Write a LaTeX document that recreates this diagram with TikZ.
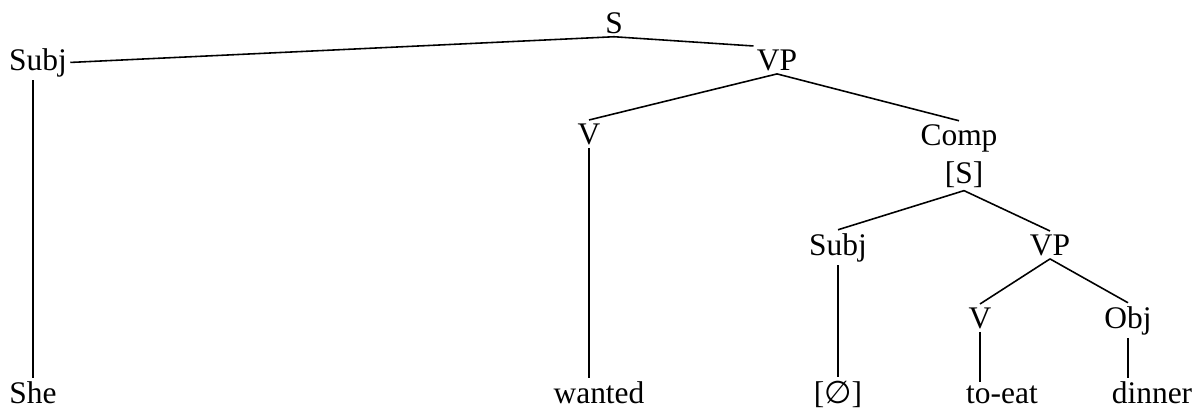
\documentclass[tikz,border=0pt]{standalone}
\usepackage{fontspec}
\setmainfont{Liberation Serif}
\newfontfamily\symfont{DejaVu Sans}
\usepackage{tikz}

\begin{document}
\begin{tikzpicture}[x=0.02cm,y=-0.02cm,line width=0.9pt,
  cat/.style={font=\fontsize{17.9}{21.5}\selectfont,inner sep=1.5pt,anchor=base}]
\useasboundingbox (0,0) rectangle (1200,410);
\node[cat] (s) at (614,33) {S};
\node[cat] (subj) at (38,70) {Subj};
\node[cat] (vp) at (777,70) {VP};
\node[cat] (v) at (589,144) {V};
\node[cat] (comp) at (959,145) {Comp};
\node[cat] (cs) at (964,183) {[S]};
\node[cat] (subjb) at (838,255) {Subj};
\node[cat] (vpb) at (1050,255) {VP};
\node[cat] (vb) at (980,328) {V};
\node[cat] (obj) at (1128,328) {Obj};
\node[cat] (she) at (33,403) {She};
\node[cat] (wanted) at (599,403) {wanted};
\node[cat] (null) at (838,403) {[{\symfont ∅}]};
\node[cat] (toeat) at (1002,403) {to-eat};
\node[cat] (dinner) at (1152,403) {dinner};
\draw (s.south) -- (subj.east);
\draw (s.south) -- (vp.north west);
\draw (vp.south) -- (v.north);
\draw (vp.south) -- (comp.north);
\draw (cs.south) -- (subjb.north);
\draw (cs.south) -- (vpb.north);
\draw (vpb.south) -- (vb.north);
\draw (vpb.south) -- (obj.north);
\draw (she.north |- subj.south) -- (she.north);
\draw (v.south) -- (v.south |- wanted.north);
\draw (subjb.south) -- (null.north);
\draw (vb.south) -- (vb.south |- toeat.north);
\draw (obj.south) -- (obj.south |- dinner.north);
\end{tikzpicture}
\end{document}
